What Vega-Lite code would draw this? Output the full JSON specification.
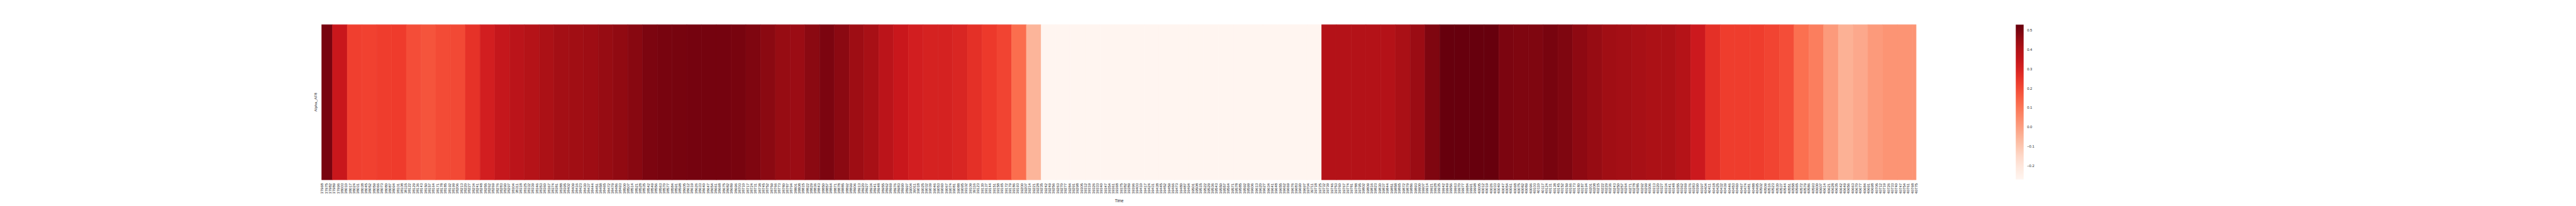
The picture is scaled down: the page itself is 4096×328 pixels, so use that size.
{
  "$schema": "https://vega.github.io/schema/vega-lite/v6.json",
  "autosize": {"type": "none"},
  "padding": {"left": 511.5, "top": 39.2, "right": 1049.2, "bottom": 41.7},
  "width": 2535.3,
  "height": 247.1,
  "background": "white",
  "config": {"view": {"stroke": null}, "font": "Liberation Sans"},
  "data": {"values": [
    {"channel": "Alpha_AF8", "start": 37968, "end": 37987, "value": 0.50},
    {"channel": "Alpha_AF8", "start": 37987, "end": 38013, "value": 0.335},
    {"channel": "Alpha_AF8", "start": 38013, "end": 38039, "value": 0.22},
    {"channel": "Alpha_AF8", "start": 38039, "end": 38065, "value": 0.215},
    {"channel": "Alpha_AF8", "start": 38065, "end": 38091, "value": 0.225},
    {"channel": "Alpha_AF8", "start": 38091, "end": 38117, "value": 0.228},
    {"channel": "Alpha_AF8", "start": 38117, "end": 38143, "value": 0.19},
    {"channel": "Alpha_AF8", "start": 38143, "end": 38169, "value": 0.175},
    {"channel": "Alpha_AF8", "start": 38169, "end": 38195, "value": 0.195},
    {"channel": "Alpha_AF8", "start": 38195, "end": 38221, "value": 0.20},
    {"channel": "Alpha_AF8", "start": 38221, "end": 38247, "value": 0.255},
    {"channel": "Alpha_AF8", "start": 38247, "end": 38273, "value": 0.31},
    {"channel": "Alpha_AF8", "start": 38273, "end": 38299, "value": 0.345},
    {"channel": "Alpha_AF8", "start": 38299, "end": 38325, "value": 0.37},
    {"channel": "Alpha_AF8", "start": 38325, "end": 38351, "value": 0.385},
    {"channel": "Alpha_AF8", "start": 38351, "end": 38377, "value": 0.41},
    {"channel": "Alpha_AF8", "start": 38377, "end": 38403, "value": 0.43},
    {"channel": "Alpha_AF8", "start": 38403, "end": 38429, "value": 0.435},
    {"channel": "Alpha_AF8", "start": 38429, "end": 38455, "value": 0.44},
    {"channel": "Alpha_AF8", "start": 38455, "end": 38481, "value": 0.45},
    {"channel": "Alpha_AF8", "start": 38481, "end": 38507, "value": 0.46},
    {"channel": "Alpha_AF8", "start": 38507, "end": 38533, "value": 0.475},
    {"channel": "Alpha_AF8", "start": 38533, "end": 38559, "value": 0.495},
    {"channel": "Alpha_AF8", "start": 38559, "end": 38585, "value": 0.50},
    {"channel": "Alpha_AF8", "start": 38585, "end": 38611, "value": 0.502},
    {"channel": "Alpha_AF8", "start": 38611, "end": 38637, "value": 0.505},
    {"channel": "Alpha_AF8", "start": 38637, "end": 38663, "value": 0.505},
    {"channel": "Alpha_AF8", "start": 38663, "end": 38689, "value": 0.505},
    {"channel": "Alpha_AF8", "start": 38689, "end": 38715, "value": 0.50},
    {"channel": "Alpha_AF8", "start": 38715, "end": 38741, "value": 0.49},
    {"channel": "Alpha_AF8", "start": 38741, "end": 38767, "value": 0.47},
    {"channel": "Alpha_AF8", "start": 38767, "end": 38793, "value": 0.45},
    {"channel": "Alpha_AF8", "start": 38793, "end": 38819, "value": 0.445},
    {"channel": "Alpha_AF8", "start": 38819, "end": 38845, "value": 0.47},
    {"channel": "Alpha_AF8", "start": 38845, "end": 38871, "value": 0.495},
    {"channel": "Alpha_AF8", "start": 38871, "end": 38897, "value": 0.47},
    {"channel": "Alpha_AF8", "start": 38897, "end": 38923, "value": 0.44},
    {"channel": "Alpha_AF8", "start": 38923, "end": 38949, "value": 0.42},
    {"channel": "Alpha_AF8", "start": 38949, "end": 38975, "value": 0.37},
    {"channel": "Alpha_AF8", "start": 38975, "end": 39001, "value": 0.335},
    {"channel": "Alpha_AF8", "start": 39001, "end": 39027, "value": 0.31},
    {"channel": "Alpha_AF8", "start": 39027, "end": 39053, "value": 0.30},
    {"channel": "Alpha_AF8", "start": 39053, "end": 39079, "value": 0.30},
    {"channel": "Alpha_AF8", "start": 39079, "end": 39105, "value": 0.29},
    {"channel": "Alpha_AF8", "start": 39105, "end": 39131, "value": 0.26},
    {"channel": "Alpha_AF8", "start": 39131, "end": 39157, "value": 0.235},
    {"channel": "Alpha_AF8", "start": 39157, "end": 39183, "value": 0.21},
    {"channel": "Alpha_AF8", "start": 39183, "end": 39209, "value": 0.12},
    {"channel": "Alpha_AF8", "start": 39209, "end": 39235, "value": -0.055},
    {"channel": "Alpha_AF8", "start": 39235, "end": 39261, "value": -0.27},
    {"channel": "Alpha_AF8", "start": 39261, "end": 39287, "value": -0.27},
    {"channel": "Alpha_AF8", "start": 39287, "end": 39313, "value": -0.27},
    {"channel": "Alpha_AF8", "start": 39313, "end": 39339, "value": -0.27},
    {"channel": "Alpha_AF8", "start": 39339, "end": 39365, "value": -0.27},
    {"channel": "Alpha_AF8", "start": 39365, "end": 39391, "value": -0.27},
    {"channel": "Alpha_AF8", "start": 39391, "end": 39417, "value": -0.27},
    {"channel": "Alpha_AF8", "start": 39417, "end": 39443, "value": -0.27},
    {"channel": "Alpha_AF8", "start": 39443, "end": 39469, "value": -0.27},
    {"channel": "Alpha_AF8", "start": 39469, "end": 39495, "value": -0.27},
    {"channel": "Alpha_AF8", "start": 39495, "end": 39521, "value": -0.27},
    {"channel": "Alpha_AF8", "start": 39521, "end": 39547, "value": -0.27},
    {"channel": "Alpha_AF8", "start": 39547, "end": 39573, "value": -0.27},
    {"channel": "Alpha_AF8", "start": 39573, "end": 39599, "value": -0.27},
    {"channel": "Alpha_AF8", "start": 39599, "end": 39625, "value": -0.27},
    {"channel": "Alpha_AF8", "start": 39625, "end": 39651, "value": -0.27},
    {"channel": "Alpha_AF8", "start": 39651, "end": 39677, "value": -0.27},
    {"channel": "Alpha_AF8", "start": 39677, "end": 39703, "value": -0.27},
    {"channel": "Alpha_AF8", "start": 39703, "end": 39729, "value": -0.27},
    {"channel": "Alpha_AF8", "start": 39729, "end": 39755, "value": 0.39},
    {"channel": "Alpha_AF8", "start": 39755, "end": 39781, "value": 0.39},
    {"channel": "Alpha_AF8", "start": 39781, "end": 39807, "value": 0.39},
    {"channel": "Alpha_AF8", "start": 39807, "end": 39833, "value": 0.39},
    {"channel": "Alpha_AF8", "start": 39833, "end": 39859, "value": 0.39},
    {"channel": "Alpha_AF8", "start": 39859, "end": 39885, "value": 0.415},
    {"channel": "Alpha_AF8", "start": 39885, "end": 39911, "value": 0.445},
    {"channel": "Alpha_AF8", "start": 39911, "end": 39937, "value": 0.49},
    {"channel": "Alpha_AF8", "start": 39937, "end": 39963, "value": 0.528},
    {"channel": "Alpha_AF8", "start": 39963, "end": 39989, "value": 0.528},
    {"channel": "Alpha_AF8", "start": 39989, "end": 40015, "value": 0.528},
    {"channel": "Alpha_AF8", "start": 40015, "end": 40041, "value": 0.528},
    {"channel": "Alpha_AF8", "start": 40041, "end": 40067, "value": 0.495},
    {"channel": "Alpha_AF8", "start": 40067, "end": 40093, "value": 0.49},
    {"channel": "Alpha_AF8", "start": 40093, "end": 40119, "value": 0.49},
    {"channel": "Alpha_AF8", "start": 40119, "end": 40145, "value": 0.50},
    {"channel": "Alpha_AF8", "start": 40145, "end": 40171, "value": 0.49},
    {"channel": "Alpha_AF8", "start": 40171, "end": 40197, "value": 0.465},
    {"channel": "Alpha_AF8", "start": 40197, "end": 40223, "value": 0.45},
    {"channel": "Alpha_AF8", "start": 40223, "end": 40249, "value": 0.435},
    {"channel": "Alpha_AF8", "start": 40249, "end": 40275, "value": 0.43},
    {"channel": "Alpha_AF8", "start": 40275, "end": 40301, "value": 0.42},
    {"channel": "Alpha_AF8", "start": 40301, "end": 40327, "value": 0.41},
    {"channel": "Alpha_AF8", "start": 40327, "end": 40353, "value": 0.41},
    {"channel": "Alpha_AF8", "start": 40353, "end": 40379, "value": 0.385},
    {"channel": "Alpha_AF8", "start": 40379, "end": 40405, "value": 0.325},
    {"channel": "Alpha_AF8", "start": 40405, "end": 40431, "value": 0.26},
    {"channel": "Alpha_AF8", "start": 40431, "end": 40457, "value": 0.225},
    {"channel": "Alpha_AF8", "start": 40457, "end": 40483, "value": 0.225},
    {"channel": "Alpha_AF8", "start": 40483, "end": 40509, "value": 0.225},
    {"channel": "Alpha_AF8", "start": 40509, "end": 40535, "value": 0.21},
    {"channel": "Alpha_AF8", "start": 40535, "end": 40561, "value": 0.19},
    {"channel": "Alpha_AF8", "start": 40561, "end": 40587, "value": 0.115},
    {"channel": "Alpha_AF8", "start": 40587, "end": 40613, "value": 0.08},
    {"channel": "Alpha_AF8", "start": 40613, "end": 40639, "value": 0.01},
    {"channel": "Alpha_AF8", "start": 40639, "end": 40665, "value": -0.045},
    {"channel": "Alpha_AF8", "start": 40665, "end": 40691, "value": -0.025},
    {"channel": "Alpha_AF8", "start": 40691, "end": 40717, "value": 0.01},
    {"channel": "Alpha_AF8", "start": 40717, "end": 40743, "value": 0.025},
    {"channel": "Alpha_AF8", "start": 40743, "end": 40769, "value": 0.025},
    {"channel": "Alpha_AF8", "start": 40769, "end": 40776, "value": 0.025}
  ]},
  "mark": {"type": "rect", "strokeWidth": 0.6, "stroke": {"expr": "scale('color', datum.value)"}},
  "encoding": {
    "x": {
      "field": "start",
      "type": "quantitative",
      "title": "Time",
      "scale": {"domain": [37968, 40776], "nice": false, "zero": false},
      "axis": {
        "values": [37968, 37975, 37982, 37989, 37996, 38003, 38010, 38017, 38024, 38031, 38038, 38045, 38052, 38059, 38066, 38073, 38080, 38087, 38094, 38101, 38108, 38115, 38122, 38129, 38136, 38143, 38150, 38157, 38164, 38171, 38178, 38185, 38192, 38199, 38206, 38213, 38220, 38227, 38234, 38241, 38248, 38255, 38262, 38269, 38276, 38283, 38290, 38297, 38304, 38311, 38318, 38325, 38332, 38339, 38346, 38353, 38360, 38367, 38374, 38381, 38388, 38395, 38402, 38409, 38416, 38423, 38430, 38437, 38444, 38451, 38458, 38465, 38472, 38479, 38486, 38493, 38500, 38507, 38514, 38521, 38528, 38535, 38542, 38549, 38556, 38563, 38570, 38577, 38584, 38591, 38598, 38605, 38612, 38619, 38626, 38633, 38640, 38647, 38654, 38661, 38668, 38675, 38682, 38689, 38696, 38703, 38710, 38717, 38724, 38731, 38738, 38745, 38752, 38759, 38766, 38773, 38780, 38787, 38794, 38801, 38808, 38815, 38822, 38829, 38836, 38843, 38850, 38857, 38864, 38871, 38878, 38885, 38892, 38899, 38906, 38913, 38920, 38927, 38934, 38941, 38948, 38955, 38962, 38969, 38976, 38983, 38990, 38997, 39004, 39011, 39018, 39025, 39032, 39039, 39046, 39053, 39060, 39067, 39074, 39081, 39088, 39095, 39102, 39109, 39116, 39123, 39130, 39137, 39144, 39151, 39158, 39165, 39172, 39179, 39186, 39193, 39200, 39207, 39214, 39221, 39228, 39235, 39242, 39249, 39256, 39263, 39270, 39277, 39284, 39291, 39298, 39305, 39312, 39319, 39326, 39333, 39340, 39347, 39354, 39361, 39368, 39375, 39382, 39389, 39396, 39403, 39410, 39417, 39424, 39431, 39438, 39445, 39452, 39459, 39466, 39473, 39480, 39487, 39494, 39501, 39508, 39515, 39522, 39529, 39536, 39543, 39550, 39557, 39564, 39571, 39578, 39585, 39592, 39599, 39606, 39613, 39620, 39627, 39634, 39641, 39648, 39655, 39662, 39669, 39676, 39683, 39690, 39697, 39704, 39711, 39718, 39725, 39732, 39739, 39746, 39753, 39760, 39767, 39774, 39781, 39788, 39795, 39802, 39809, 39816, 39823, 39830, 39837, 39844, 39851, 39858, 39865, 39872, 39879, 39886, 39893, 39900, 39907, 39914, 39921, 39928, 39935, 39942, 39949, 39956, 39963, 39970, 39977, 39984, 39991, 39998, 40005, 40012, 40019, 40026, 40033, 40040, 40047, 40054, 40061, 40068, 40075, 40082, 40089, 40096, 40103, 40110, 40117, 40124, 40131, 40138, 40145, 40152, 40159, 40166, 40173, 40180, 40187, 40194, 40201, 40208, 40215, 40222, 40229, 40236, 40243, 40250, 40257, 40264, 40271, 40278, 40285, 40292, 40299, 40306, 40313, 40320, 40327, 40334, 40341, 40348, 40355, 40362, 40369, 40376, 40383, 40390, 40397, 40404, 40411, 40418, 40425, 40432, 40439, 40446, 40453, 40460, 40467, 40474, 40481, 40488, 40495, 40502, 40509, 40516, 40523, 40530, 40537, 40544, 40551, 40558, 40565, 40572, 40579, 40586, 40593, 40600, 40607, 40614, 40621, 40628, 40635, 40642, 40649, 40656, 40663, 40670, 40677, 40684, 40691, 40698, 40705, 40712, 40719, 40726, 40733, 40740, 40747, 40754, 40761, 40768, 40775],
        "format": "d",
        "labelAngle": -90,
        "labelOverlap": false,
        "labelFlush": false,
        "labelBound": false,
        "ticks": false,
        "domain": false,
        "grid": false,
        "labelFont": "Liberation Sans",
        "labelFontSize": 6.1,
        "labelColor": "#262626",
        "labelPadding": 5,
        "labelOffset": 0.45,
        "titleFont": "Liberation Sans",
        "titleFontSize": 6.3,
        "titleFontWeight": "normal",
        "titleColor": "#262626",
        "titlePadding": 8
      }
    },
    "x2": {"field": "end"},
    "y": {
      "field": "channel",
      "type": "nominal",
      "title": null,
      "scale": {"paddingInner": 0, "paddingOuter": 0},
      "axis": {
        "labelAngle": -90,
        "ticks": false,
        "domain": false,
        "grid": false,
        "labelFont": "Liberation Sans",
        "labelFontSize": 6.1,
        "labelColor": "#262626",
        "labelPadding": 7
      }
    },
    "color": {
      "field": "value",
      "type": "quantitative",
      "scale": {
        "domain": [-0.27, 0.528],
        "range": ["#fff5f0", "#fee0d2", "#fcbba1", "#fc9272", "#fb6a4a", "#ef3b2c", "#cb181d", "#a50f15", "#67000d"],
        "interpolate": "rgb",
        "nice": false,
        "zero": false
      },
      "legend": {
        "orient": "none",
        "legendX": 2693.7,
        "legendY": 0,
        "direction": "vertical",
        "title": null,
        "gradientLength": 246.5,
        "gradientThickness": 12.5,
        "gradientStrokeWidth": 0,
        "values": [-0.2, -0.1, 0, 0.1, 0.2, 0.3, 0.4, 0.5],
        "format": ".1f",
        "labelFont": "Liberation Sans",
        "labelFontSize": 5.8,
        "labelColor": "#262626",
        "labelOffset": 5.5,
        "labelOverlap": false,
        "padding": 0
      }
    }
  }
}
